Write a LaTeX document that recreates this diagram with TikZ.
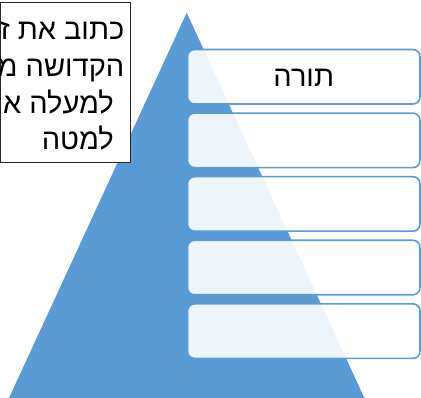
\documentclass[tikz,border=0pt]{standalone}
\usepackage{fontspec}
\setmainfont{Liberation Sans}
\newfontfamily\hebfont[Script=Hebrew]{Liberation Sans}
\TeXXeTstate=1
\definecolor{triblue}{HTML}{5B9BD5}
\tikzset{
  levelbox/.style={draw=triblue, line width=1.6pt, fill=white, fill opacity=0.9,
    text opacity=1, rounded corners=7pt, minimum width=232.5pt,
    minimum height=54.5pt, inner sep=0pt},
  notebox/.style={draw=black!85, line width=0.9pt, fill=white, inner sep=0pt,
    minimum width=130.2pt, minimum height=159.8pt},
  hebtext/.style={font=\hebfont\fontsize{29}{34}\selectfont, inner sep=0pt, text=black}
}
\begin{document}
\begin{tikzpicture}[x=1pt,y=-1pt]
\clip (0,0) rectangle (421,398);
% pyramid
\fill[triblue] (186.7,12.7) -- (9,398) -- (364.4,398) -- cycle;
% level boxes
\node[levelbox] (l1) at (303.75,76.75) {};
\node[levelbox] (l2) at (303.75,140.35) {};
\node[levelbox] (l3) at (303.75,203.95) {};
\node[levelbox] (l4) at (303.75,267.55) {};
\node[levelbox] (l5) at (303.75,331.15) {};
\node[hebtext, anchor=base] (torah) at ([yshift=-10.25pt]l1.center) {\beginR תורה\endR};
% note box
\node[notebox] (note) at (65.6,82.6) {};
\node[hebtext, anchor=base east] (n1) at (124.5,40) {\beginR כתוב את ז\endR};
\node[hebtext, anchor=base east] (n2) at (124.5,77) {\beginR הקדושה מ\endR};
\node[hebtext, anchor=base east] (n3) at (114,113.5) {\beginR למעלה א\endR};
\node[hebtext, anchor=base east] (n4) at (114,150) {\beginR למטה\endR};
\end{tikzpicture}
\end{document}
